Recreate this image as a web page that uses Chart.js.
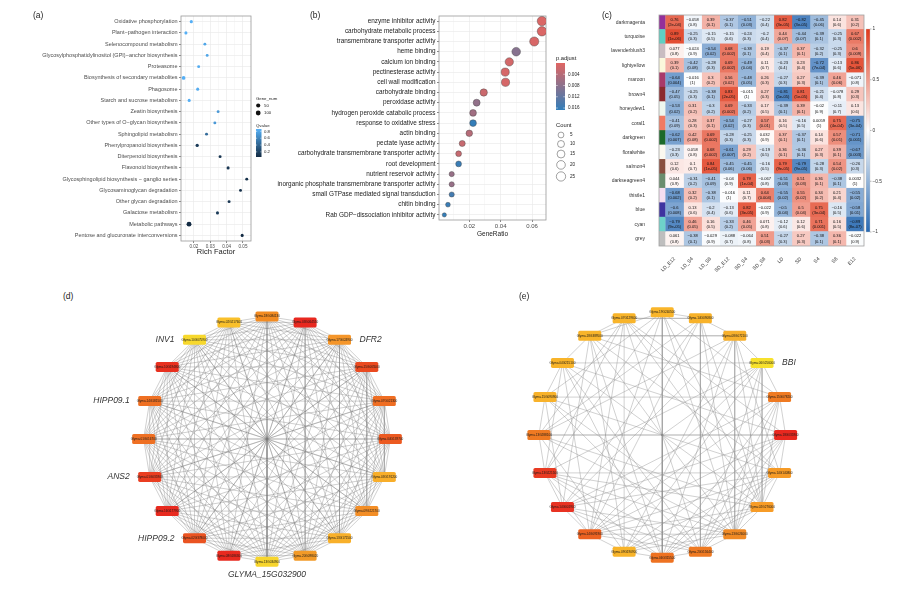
<!DOCTYPE html>
<html lang="en">
<head>
<meta charset="utf-8">
<title>Module enrichment, module-trait correlation and hub networks</title>
<script src="https://cdn.jsdelivr.net/npm/chart.js@4.4.1/dist/chart.umd.min.js"></script>
<style>
  html, body { margin: 0; padding: 0; background: #ffffff; }
  #figure { position: relative; width: 900px; height: 589px; overflow: hidden; background: #ffffff; }
  #figure canvas { position: absolute; }
  .tag { position: absolute; font: 8.5px 'Liberation Sans', Arial, sans-serif; color: #222; line-height: 9px; }
</style>
</head>
<body>
<div id="figure">
  <canvas id="keggChart" width="290" height="256" style="left:0;top:0"></canvas>
  <canvas id="goChart" width="340" height="238" style="left:260px;top:0"></canvas>
  <canvas id="traitChart" width="310" height="275" style="left:590px;top:0"></canvas>
  <canvas id="netD" width="380" height="299" style="left:77px;top:290px"></canvas>
  <canvas id="netE" width="380" height="300" style="left:470px;top:285px"></canvas>
  <div class="tag" style="left:33px;top:11px">(a)</div>
  <div class="tag" style="left:310px;top:11px">(b)</div>
  <div class="tag" style="left:602px;top:11px">(c)</div>
  <div class="tag" style="left:63px;top:292px">(d)</div>
  <div class="tag" style="left:519px;top:292px">(e)</div>
</div>
<script>
/* Multi-panel figure: KEGG / GO enrichment, module-trait heatmap, hub gene networks */

const FONT = "'Liberation Sans', Arial, Helvetica, sans-serif";
Chart.defaults.font.family = FONT;
Chart.defaults.color = '#333333';
Chart.defaults.animation = false;

// ---------- (a) KEGG enrichment ----------
const keggTerms = [
    'Oxidative phosphorylation',
    'Plant\u2212pathogen interaction',
    'Selenocompound metabolism',
    'Glycosylphosphatidylinositol (GPI)\u2212anchor biosynthesis',
    'Proteasome',
    'Biosynthesis of secondary metabolites',
    'Phagosome',
    'Starch and sucrose metabolism',
    'Zeatin biosynthesis',
    'Other types of O\u2212glycan biosynthesis',
    'Sphingolipid metabolism',
    'Phenylpropanoid biosynthesis',
    'Diterpenoid biosynthesis',
    'Flavonoid biosynthesis',
    'Glycosphingolipid biosynthesis \u2212 ganglio series',
    'Glycosaminoglycan degradation',
    'Other glycan degradation',
    'Galactose metabolism',
    'Metabolic pathways',
    'Pentose and glucuronate interconversions'
];
const keggRichFactor = [0.0184, 0.0151, 0.0267, 0.0281, 0.0229, 0.0137, 0.0223, 0.0171, 0.0348, 0.0328,
                        0.0277, 0.0220, 0.0360, 0.0409, 0.0523, 0.0485, 0.0415, 0.0344, 0.0170, 0.0495];
const keggQvalue = [0.86, 0.86, 0.80, 0.80, 0.84, 0.86, 0.84, 0.86, 0.72, 0.72,
                    0.45, 0.15, 0.12, 0.12, 0.08, 0.08, 0.12, 0.15, 0.05, 0.05];
const keggGeneNum = [6, 5, 2, 2, 3, 25, 4, 5, 2, 2, 3, 9, 3, 4, 2, 2, 3, 4, 110, 4];
const keggTicks = [0.015, 0.02, 0.025, 0.03, 0.035, 0.04, 0.045, 0.05];
const keggTickLabels = ['', '0.02', '', '0.03', '', '0.04', '', '0.05'];
const geneNumLegend = [50, 100];
const qvalueLegend = [0.2, 0.4, 0.6, 0.8];
const qvalueRange = [0.05, 0.87];

// ---------- (b) GO enrichment ----------
const goTerms = [
    'enzyme inhibitor activity',
    'carbohydrate metabolic process',
    'transmembrane transporter activity',
    'heme binding',
    'calcium ion binding',
    'pectinesterase activity',
    'cell wall modification',
    'carbohydrate binding',
    'peroxidase activity',
    'hydrogen peroxide catabolic process',
    'response to oxidative stress',
    'actin binding',
    'pectate lyase activity',
    'carbohydrate transmembrane transporter activity',
    'root development',
    'nutrient reservoir activity',
    'inorganic phosphate transmembrane transporter activity',
    'small GTPase mediated signal transduction',
    'chitin binding',
    'Rab GDP\u2212dissociation inhibitor activity'
];
const goGeneRatio = [0.0663, 0.0663, 0.0614, 0.0499, 0.0455, 0.0429, 0.0431, 0.0292, 0.0247, 0.0224,
                     0.0224, 0.0200, 0.0155, 0.0132, 0.0132, 0.0088, 0.0088, 0.0088, 0.0064, 0.0041];
const goCount = [26, 26, 24, 20, 18, 17, 17, 12, 10, 9, 9, 8, 6, 5, 5, 3, 3, 3, 2, 1];
const goPadjust = [0.0006, 0.0006, 0.0008, 0.0085, 0.0012, 0.0010, 0.0010, 0.0020, 0.0075, 0.0060,
                   0.0165, 0.0040, 0.0025, 0.0025, 0.0160, 0.0070, 0.0070, 0.0150, 0.0160, 0.0165];
const goTicks = [0.01, 0.02, 0.03, 0.04, 0.05, 0.06];
const goTickLabels = ['', '0.02', '', '0.04', '', '0.06'];
const padjLegend = [0.004, 0.008, 0.012, 0.016];
const padjRange = [0, 0.0167];
const countLegend = [5, 10, 15, 20, 25];

// ---------- (c) module-trait correlation ----------
const traitNames = ['LD_E12', 'LD_S4', 'LD_S8', 'SD_E12', 'SD_S4', 'SD_S8', 'LD', 'SD', 'S4', 'S8', 'E12'];
const moduleNames = ['darkmagenta', 'turquoise', 'lavenderblush3', 'lightyellow', 'maroon', 'brown4',
                     'honeydew1', 'coral1', 'darkgreen', 'floralwhite', 'salmon4', 'darkseagreen4',
                     'thistle1', 'blue', 'cyan', 'grey'];
const moduleSwatches = ['#93309a', '#5fd0c2', '#c9bcc1', '#fbf8dc', '#a93a6a', '#8b2a2e',
                        '#eef7ee', '#f07a62', '#1c6a2a', '#fbf8ef', '#8a4e3e', '#6b8d6d',
                        '#f4ddf0', '#3f33a0', '#6ed2ca', '#bebebe'];
const moduleTraitCor = [
    [0.76, -0.058, 0.39, -0.37, -0.51, -0.22, 0.82, -0.82, -0.45, 0.14, 0.31],
    [0.89, -0.25, -0.15, -0.15, -0.24, -0.2, 0.44, -0.44, -0.39, -0.25, 0.67],
    [0.077, -0.024, -0.54, 0.68, -0.38, 0.19, -0.37, 0.37, -0.32, -0.25, 0.6],
    [0.39, -0.42, -0.28, 0.69, -0.49, 0.11, -0.23, 0.23, -0.72, -0.13, 0.86],
    [-0.64, -0.016, 0.3, 0.56, -0.48, 0.26, -0.27, 0.27, -0.39, 0.46, -0.071],
    [-0.47, -0.25, -0.38, 0.83, -0.015, 0.27, -0.81, 0.81, -0.21, -0.078, 0.29],
    [-0.53, 0.31, -0.3, 0.69, -0.33, 0.17, -0.39, 0.39, -0.02, -0.11, 0.13],
    [-0.41, 0.28, 0.37, -0.54, -0.27, 0.57, 0.16, -0.16, 0.0059, 0.75, -0.75],
    [-0.62, 0.42, 0.69, -0.28, -0.25, 0.032, 0.37, -0.37, 0.14, 0.57, -0.71],
    [-0.23, 0.058, 0.68, -0.61, 0.29, -0.19, 0.36, -0.36, 0.27, 0.39, -0.67],
    [0.12, 0.1, 0.84, -0.45, -0.45, -0.16, 0.79, -0.79, -0.28, 0.54, -0.26],
    [0.044, -0.31, -0.41, -0.04, 0.79, -0.067, -0.51, 0.51, 0.36, -0.38, 0.0032],
    [-0.68, 0.32, -0.38, -0.016, 0.11, 0.64, -0.55, 0.55, 0.34, 0.21, -0.55],
    [-0.6, 0.13, -0.2, -0.13, 0.82, -0.022, -0.5, 0.5, 0.75, -0.16, -0.58],
    [-0.79, 0.46, 0.16, -0.33, 0.46, 0.071, -0.12, 0.12, 0.71, 0.16, -0.89],
    [0.061, -0.38, -0.029, -0.088, -0.064, 0.51, -0.27, 0.27, -0.38, 0.36, -0.022]
];
const moduleTraitP = [
    ['2e-04', '0.8', '0.1', '0.1', '0.03', '0.4', '3e-05', '3e-05', '0.06', '0.6', '0.2'],
    ['1e-06', '0.3', '0.5', '0.6', '0.3', '0.4', '0.07', '0.07', '0.1', '0.3', '0.002'],
    ['0.8', '0.9', '0.02', '0.002', '0.1', '0.4', '0.1', '0.1', '0.2', '0.3', '0.009'],
    ['0.1', '0.08', '0.3', '0.002', '0.04', '0.7', '0.4', '0.4', '7e-04', '0.6', '5e-06'],
    ['0.004', '1', '0.2', '0.02', '0.05', '0.3', '0.3', '0.3', '0.1', '0.06', '0.8'],
    ['0.05', '0.3', '0.1', '2e-05', '1', '0.3', '5e-05', '5e-05', '0.4', '0.8', '0.3'],
    ['0.02', '0.2', '0.2', '0.002', '0.2', '0.5', '0.1', '0.1', '0.9', '0.7', '0.6'],
    ['0.09', '0.3', '0.1', '0.02', '0.3', '0.01', '0.5', '0.5', '1', '4e-04', '3e-04'],
    ['0.007', '0.08', '0.002', '0.3', '0.3', '0.9', '0.1', '0.1', '0.6', '0.01', '0.001'],
    ['0.3', '0.8', '0.002', '0.007', '0.2', '0.5', '0.1', '0.1', '0.3', '0.1', '0.003'],
    ['0.6', '0.7', '1e-05', '0.06', '0.06', '0.5', '9e-05', '9e-05', '0.3', '0.02', '0.3'],
    ['0.9', '0.2', '0.09', '0.9', '1e-04', '0.8', '0.03', '0.03', '0.1', '0.1', '1'],
    ['0.002', '0.2', '0.1', '1', '0.7', '0.004', '0.02', '0.02', '0.2', '0.4', '0.02'],
    ['0.008', '0.6', '0.4', '0.6', '3e-05', '0.9', '0.04', '0.04', '3e-04', '0.5', '0.01'],
    ['9e-05', '0.05', '0.5', '0.2', '0.05', '0.8', '0.6', '0.6', '0.001', '0.5', '8e-07'],
    ['0.8', '0.1', '0.9', '0.7', '0.8', '0.03', '0.3', '0.3', '0.1', '0.1', '0.9']
];
const corLegend = [1, 0.5, 0, -0.5, -1];

// ---------- (d) network of the first module (fully connected, plus hub) ----------
const netDNames = ['Glyma.18G084130', 'Glyma.03G064550', 'Glyma.17G024900', 'Glyma.15G065500',
                   'Glyma.07G021300', 'Glyma.04G139700', 'Glyma.03G191200', 'Glyma.09G221700',
                   'Glyma.13G171500', 'Glyma.20G098020', 'Glyma.13G034900', 'Glyma.08G186300',
                   'Glyma.02G378000', 'Glyma.16G177900', 'Glyma.01G035900', 'Glyma.01G016700',
                   'Glyma.14G181500', 'Glyma.10G194800', 'Glyma.10G075900', 'Glyma.02G217600'];
const netDColors = ['#f28b22', '#e8281f', '#f5962a', '#ea4a20', '#ef6e23', '#ec5a21', '#f8ae2a',
                    '#f38e26', '#f8b02a', '#f29a28', '#f7d52d', '#e82a1f', '#ea5321', '#e82a1f',
                    '#ea3e21', '#ef7023', '#ef7023', '#e8301f', '#f7d82d', '#f9c02b'];
const netDTags = [
    { node: 18, text: 'INV1', side: 'left' },
    { node: 2, text: 'DFR2', side: 'right' },
    { node: 16, text: 'HIPP09.1', side: 'left' },
    { node: 14, text: 'ANS2', side: 'left' },
    { node: 12, text: 'HIPP09.2', side: 'left' },
    { node: 10, text: 'GLYMA_15G032900', side: 'below' }
];

// ---------- (e) network of the second module ----------
const netENames = ['Glyma.19G240500', 'Glyma.14G090800', 'Glyma.08G072100', 'Glyma.06G256000',
                   'Glyma.15G078200', 'Glyma.18G035900', 'Glyma.14G140800', 'Glyma.02G276000',
                   'Glyma.13G026000', 'Glyma.20G156400', 'Glyma.06G315500', 'Glyma.09G190900',
                   'Glyma.14G091900', 'Glyma.14G001900', 'Glyma.13G221500', 'Glyma.13G288100',
                   'Glyma.15G090900', 'Glyma.04G215100', 'Glyma.18G389500', 'Glyma.07G129600'];
const netEColors = ['#f9b52a', '#f8b22a', '#f7b02c', '#f7e12d', '#ef7a22', '#e8281f', '#f59a26',
                    '#f79c27', '#f08a25', '#ef7a22', '#ee7221', '#f8b42a', '#ec6221', '#e83222',
                    '#e83a22', '#ef7a22', '#f8b22a', '#f8b42a', '#f8b42a', '#f8b42a'];
const netEEdges = [
    [0, 1], [0, 4], [0, 7], [0, 8], [0, 10], [0, 12], [0, 14], [0, 16], [0, 18],
    [1, 2], [1, 7], [1, 8], [1, 9], [1, 12], [1, 13], [1, 15], [1, 19],
    [2, 3], [2, 6], [2, 7], [2, 8], [2, 10], [2, 11], [2, 13], [2, 15], [2, 18],
    [3, 4], [3, 7], [3, 8], [3, 9], [3, 11], [3, 12], [3, 14], [3, 17],
    [4, 5], [4, 7], [4, 8], [4, 9], [4, 10], [4, 12], [4, 13], [4, 16], [4, 18],
    [5, 6], [5, 8], [5, 9], [5, 10], [5, 11], [5, 12], [5, 13], [5, 15], [5, 17], [5, 19],
    [6, 7], [6, 9], [6, 10], [6, 11], [6, 12], [6, 13], [6, 14], [6, 16], [6, 18], [6, 19],
    [7, 8], [7, 10], [7, 11], [7, 12], [7, 14], [7, 15], [7, 17], [7, 19],
    [8, 9], [8, 11], [8, 12], [8, 13], [8, 14], [8, 15], [8, 16], [8, 18],
    [9, 10], [9, 12], [9, 13], [9, 14], [9, 16], [9, 17], [9, 19],
    [10, 11], [10, 13], [10, 14], [10, 17], [10, 18],
    [11, 12], [11, 15], [11, 18], [11, 19],
    [12, 13], [12, 14], [12, 17], [12, 19],
    [13, 14], [13, 16], [13, 18],
    [14, 15], [14, 17], [14, 19],
    [15, 16], [15, 19],
    [16, 17], [17, 18], [18, 19], [18, 2], [19, 1]
];
const netEHubLinks = [0, 3, 5, 10, 15];
const netETags = [{ node: 3, text: 'BBI', side: 'right' }];

// ---------- colour helpers ----------
function hexToRgb(hex) {
    const n = parseInt(hex.slice(1), 16);
    return [(n >> 16) & 255, (n >> 8) & 255, n & 255];
}
function mixColor(c1, c2, t) {
    const a = hexToRgb(c1), b = hexToRgb(c2);
    t = Math.max(0, Math.min(1, t));
    const m = a.map((v, k) => Math.round(v + (b[k] - v) * t));
    return `rgb(${m[0]},${m[1]},${m[2]})`;
}
const qvalueColor = q => mixColor('#132b43', '#56b1f7', (q - qvalueRange[0]) / (qvalueRange[1] - qvalueRange[0]));
const padjColor = p => mixColor('#e06663', '#327eba', (p - padjRange[0]) / (padjRange[1] - padjRange[0]));
function corColor(v) {
    return v >= 0 ? mixColor('#ffffff', '#e0381a', v) : mixColor('#ffffff', '#2668b2', -v);
}
const geneNumRadius = n => 1.3 + 0.11 * Math.sqrt(n);
const countRadius = c => 1.5 + 0.63 * Math.sqrt(c);

// frame around the plotting panel (ggplot theme_bw look)
const framePlugin = {
    id: 'panelFrame',
    beforeDatasetsDraw(chart) {
        const { ctx, chartArea: a } = chart;
        ctx.save();
        ctx.strokeStyle = '#9a9a9a';
        ctx.lineWidth = 0.8;
        ctx.strokeRect(a.left, a.top, a.right - a.left, a.bottom - a.top);
        ctx.restore();
    }
};

function minorAware(labels, major, minor) {
    return ctx => (labels[ctx.index] ? major : minor);
}

// ---------- (a) chart ----------
const keggLegendPlugin = {
    id: 'keggLegend',
    afterDraw(chart) {
        const { ctx, chartArea } = chart;
        const x0 = chartArea.right + 5;
        ctx.save();
        ctx.textBaseline = 'middle';
        ctx.font = `4.3px ${FONT}`;
        ctx.fillStyle = '#222';
        ctx.fillText('Gene_num', x0, 99);
        geneNumLegend.forEach((n, k) => {
            const y = 105.5 + k * 7.5;
            ctx.beginPath();
            ctx.arc(x0 + 2.2, y, geneNumRadius(n), 0, Math.PI * 2);
            ctx.fillStyle = '#111';
            ctx.fill();
            ctx.fillStyle = '#222';
            ctx.fillText(String(n), x0 + 8, y);
        });
        ctx.fillText('Qvalue', x0, 126);
        const top = 129, h = 28, w = 5.5;
        const grad = ctx.createLinearGradient(0, top, 0, top + h);
        grad.addColorStop(0, qvalueColor(qvalueRange[1]));
        grad.addColorStop(1, qvalueColor(qvalueRange[0]));
        ctx.fillStyle = grad;
        ctx.fillRect(x0, top, w, h);
        qvalueLegend.forEach(v => {
            const y = top + (qvalueRange[1] - v) / (qvalueRange[1] - qvalueRange[0]) * h;
            ctx.strokeStyle = '#ffffff';
            ctx.lineWidth = 0.5;
            ctx.beginPath();
            ctx.moveTo(x0, y); ctx.lineTo(x0 + 1.2, y);
            ctx.moveTo(x0 + w - 1.2, y); ctx.lineTo(x0 + w, y);
            ctx.stroke();
            ctx.fillStyle = '#222';
            ctx.fillText(v.toFixed(1), x0 + w + 2.5, y);
        });
        ctx.restore();
    }
};

new Chart(document.getElementById('keggChart'), {
    type: 'bubble',
    data: {
        datasets: [{
            data: keggTerms.map((t, i) => ({ x: keggRichFactor[i], y: t, r: geneNumRadius(keggGeneNum[i]) })),
            backgroundColor: keggQvalue.map(qvalueColor),
            borderWidth: 0
        }]
    },
    options: {
        responsive: false,
        events: [],
        layout: { padding: { top: 16, right: 39, left: 0, bottom: 0 } },
        plugins: { legend: { display: false }, tooltip: { enabled: false } },
        scales: {
            x: {
                type: 'linear', min: 0.0121, max: 0.0549,
                afterBuildTicks: s => { s.ticks = keggTicks.map(v => ({ value: v })); },
                afterFit: s => { s.height = 15; },
                ticks: { callback: (v, i) => keggTickLabels[i], font: { size: 4.6 }, color: '#4d4d4d',
                         padding: 1, maxRotation: 0, autoSkip: false },
                grid: { color: '#ebebeb', lineWidth: minorAware(keggTickLabels, 0.7, 0.35), tickLength: 2,
                        tickColor: minorAware(keggTickLabels, '#555555', 'rgba(0,0,0,0)') },
                border: { display: false },
                title: { display: true, text: 'Rich Factor', font: { size: 7.5 }, color: '#1a1a1a', padding: 0 }
            },
            y: {
                type: 'category', labels: keggTerms, offset: true,
                afterFit: s => { s.width = 181; },
                ticks: { font: { size: 5.5 }, color: '#4d4d4d', padding: 1.5, autoSkip: false },
                grid: { offset: false, color: '#ebebeb', lineWidth: 0.7, tickLength: 2, tickColor: '#555555' },
                border: { display: false }
            }
        }
    },
    plugins: [framePlugin, keggLegendPlugin]
});

// ---------- (b) chart ----------
const goLegendPlugin = {
    id: 'goLegend',
    afterDraw(chart) {
        const { ctx, chartArea } = chart;
        const x0 = chartArea.right + 10;
        ctx.save();
        ctx.textBaseline = 'middle';
        ctx.fillStyle = '#222';
        ctx.font = `5.8px ${FONT}`;
        ctx.fillText('p.adjust', x0, 58);
        const top = 63, h = 47, w = 9;
        const grad = ctx.createLinearGradient(0, top, 0, top + h);
        grad.addColorStop(0, padjColor(padjRange[0]));
        grad.addColorStop(1, padjColor(padjRange[1]));
        ctx.fillStyle = grad;
        ctx.fillRect(x0, top, w, h);
        ctx.font = `4.6px ${FONT}`;
        padjLegend.forEach(v => {
            const y = top + (v - padjRange[0]) / (padjRange[1] - padjRange[0]) * h;
            ctx.strokeStyle = '#ffffff';
            ctx.lineWidth = 0.5;
            ctx.beginPath();
            ctx.moveTo(x0, y); ctx.lineTo(x0 + 1.8, y);
            ctx.moveTo(x0 + w - 1.8, y); ctx.lineTo(x0 + w, y);
            ctx.stroke();
            ctx.fillStyle = '#222';
            ctx.fillText(v.toFixed(3), x0 + w + 3, y);
        });
        ctx.font = `5.8px ${FONT}`;
        ctx.fillText('Count', x0, 125);
        ctx.font = `4.6px ${FONT}`;
        let y = 135, prevR = 0;
        countLegend.forEach((c, k) => {
            const r = countRadius(c);
            if (k > 0) y += prevR + r + 2.6;
            ctx.beginPath();
            ctx.arc(x0 + 5, y, r, 0, Math.PI * 2);
            ctx.fillStyle = '#ffffff';
            ctx.fill();
            ctx.strokeStyle = '#444';
            ctx.lineWidth = 0.5;
            ctx.stroke();
            ctx.fillStyle = '#222';
            ctx.fillText(String(c), x0 + 14, y);
            prevR = r;
        });
        ctx.restore();
    }
};

new Chart(document.getElementById('goChart'), {
    type: 'bubble',
    data: {
        datasets: [{
            data: goTerms.map((t, i) => ({ x: goGeneRatio[i], y: t, r: countRadius(goCount[i]) })),
            backgroundColor: goPadjust.map(padjColor),
            borderColor: 'rgba(70,70,70,0.85)',
            borderWidth: 0.5
        }]
    },
    options: {
        responsive: false,
        events: [],
        layout: { padding: { top: 16, right: 54, left: 0, bottom: 0 } },
        plugins: { legend: { display: false }, tooltip: { enabled: false } },
        scales: {
            x: {
                type: 'linear', min: 0.0007, max: 0.0689,
                afterBuildTicks: s => { s.ticks = goTicks.map(v => ({ value: v })); },
                afterFit: s => { s.height = 18; },
                ticks: { callback: (v, i) => goTickLabels[i], font: { size: 6 }, color: '#4d4d4d',
                         padding: 1, maxRotation: 0, autoSkip: false },
                grid: { color: '#ebebeb', lineWidth: minorAware(goTickLabels, 0.7, 0.35), tickLength: 2,
                        tickColor: minorAware(goTickLabels, '#555555', 'rgba(0,0,0,0)') },
                border: { display: false },
                title: { display: true, text: 'GeneRatio', font: { size: 6.5 }, color: '#1a1a1a', padding: 0 }
            },
            y: {
                type: 'category', labels: goTerms, offset: true,
                afterFit: s => { s.width = 179; },
                ticks: { font: { size: 6.4 }, color: '#222', padding: 1.5, autoSkip: false },
                grid: { offset: false, color: '#ebebeb', lineWidth: 0.7, tickLength: 2, tickColor: '#555555' },
                border: { display: false }
            }
        }
    },
    plugins: [framePlugin, goLegendPlugin]
});

// ---------- (c) heatmap ----------
const fmtCor = v => String(v).replace('-', '\u2212');

const heatmapPlugin = {
    id: 'heatmapText',
    afterDatasetsDraw(chart) {
        const { ctx, chartArea: a } = chart;
        ctx.save();
        ctx.font = `4.1px ${FONT}`;
        ctx.fillStyle = '#111';
        ctx.textAlign = 'center';
        ctx.textBaseline = 'middle';
        traitNames.forEach((trait, j) => {
            chart.getDatasetMeta(j + 1).data.forEach((bar, i) => {
                const cx = (bar.x + bar.base) / 2;
                ctx.fillText(fmtCor(moduleTraitCor[i][j]), cx, bar.y - 2.5);
                ctx.fillText('(' + moduleTraitP[i][j] + ')', cx, bar.y + 2.6);
            });
        });
        // panel frame
        ctx.strokeStyle = '#a0a0a0';
        ctx.lineWidth = 0.8;
        ctx.strokeRect(a.left, a.top, a.right - a.left, a.bottom - a.top);
        // colour key
        const bx = a.right + 2, bw = 4, top = a.top + 14, bottom = a.bottom - 14;
        const grad = ctx.createLinearGradient(0, top, 0, bottom);
        grad.addColorStop(0, corColor(1));
        grad.addColorStop(0.5, corColor(0));
        grad.addColorStop(1, corColor(-1));
        ctx.fillStyle = grad;
        ctx.fillRect(bx, top, bw, bottom - top);
        ctx.strokeStyle = '#c8c8c8';
        ctx.lineWidth = 0.4;
        ctx.strokeRect(bx, top, bw, bottom - top);
        ctx.font = `4.8px ${FONT}`;
        ctx.textAlign = 'left';
        corLegend.forEach(v => {
            const y = top + (1 - v) / 2 * (bottom - top);
            ctx.strokeStyle = '#555';
            ctx.beginPath();
            ctx.moveTo(bx + bw, y); ctx.lineTo(bx + bw + 1.5, y);
            ctx.stroke();
            ctx.fillStyle = '#333';
            ctx.fillText(fmtCor(v), bx + bw + 2.5, y);
        });
        ctx.restore();
    }
};

const heatDatasets = [{
    label: 'module',
    data: moduleNames.map(() => [-0.36, -0.03]),
    backgroundColor: moduleSwatches,
    grouped: false, barPercentage: 1, categoryPercentage: 1, borderWidth: 0
}].concat(traitNames.map((trait, j) => ({
    label: trait,
    data: moduleNames.map(() => [j, j + 1]),
    backgroundColor: moduleNames.map((m, i) => corColor(moduleTraitCor[i][j])),
    grouped: false, barPercentage: 1, categoryPercentage: 1, borderWidth: 0
})));

new Chart(document.getElementById('traitChart'), {
    type: 'bar',
    data: { labels: moduleNames, datasets: heatDatasets },
    options: {
        indexAxis: 'y',
        responsive: false,
        events: [],
        layout: { padding: { top: 15, right: 36, left: 0, bottom: 0 } },
        plugins: { legend: { display: false }, tooltip: { enabled: false } },
        scales: {
            x: {
                type: 'linear', min: -0.36, max: 11,
                afterBuildTicks: s => { s.ticks = traitNames.map((t, j) => ({ value: j + 0.5 })); },
                afterFit: s => { s.height = 29; },
                ticks: { callback: (v, i) => traitNames[i], minRotation: 45, maxRotation: 45,
                         font: { size: 5 }, color: '#333', padding: 2, autoSkip: false },
                grid: { display: false },
                border: { display: false }
            },
            y: {
                type: 'category',
                afterFit: s => { s.width = 69; },
                ticks: { font: { size: 5 }, color: '#333', padding: 6, autoSkip: false },
                grid: { display: false },
                border: { display: false }
            }
        }
    },
    plugins: [heatmapPlugin]
});

// ---------- (d) and (e) networks ----------
// circular layout: node 0 on top, the rest clockwise, evenly spaced
function ringPosition(i, n) {
    const a = (90 - i * 360 / n) * Math.PI / 180;
    return { x: Math.cos(a), y: Math.sin(a) };
}

function roundedRect(ctx, x, y, w, h, r) {
    ctx.beginPath();
    ctx.moveTo(x + r, y);
    ctx.lineTo(x + w - r, y);
    ctx.quadraticCurveTo(x + w, y, x + w, y + r);
    ctx.lineTo(x + w, y + h - r);
    ctx.quadraticCurveTo(x + w, y + h, x + w - r, y + h);
    ctx.lineTo(x + r, y + h);
    ctx.quadraticCurveTo(x, y + h, x, y + h - r);
    ctx.lineTo(x, y + r);
    ctx.quadraticCurveTo(x, y, x + r, y);
    ctx.closePath();
}

function drawNetwork(canvasId, names, colors, edges, hubLinks, tags, view, edgeColor) {
    const pos = names.map((_, i) => ringPosition(i, names.length));
    const hub = { x: 0, y: 0 };
    const gap = { x: NaN, y: NaN };
    const lineData = [];
    edges.forEach(([a, b]) => lineData.push(pos[a], pos[b], gap));
    hubLinks.forEach(i => lineData.push(hub, pos[i], gap));

    const nodePlugin = {
        id: 'networkNodes',
        afterDatasetsDraw(chart) {
            const { ctx } = chart;
            const pts = chart.getDatasetMeta(2).data;
            ctx.save();
            pts.forEach((p, i) => {
                roundedRect(ctx, p.x - 11.5, p.y - 5, 23, 10, 1.6);
                ctx.fillStyle = colors[i];
                ctx.fill();
                ctx.fillStyle = '#1a1a1a';
                ctx.font = `3.1px ${FONT}`;
                ctx.textAlign = 'center';
                ctx.textBaseline = 'middle';
                ctx.fillText(names[i], p.x, p.y + 0.2);
            });
            ctx.font = `italic 8.5px ${FONT}`;
            ctx.fillStyle = '#333';
            tags.forEach(t => {
                const p = pts[t.node];
                if (t.side === 'left') {
                    ctx.textAlign = 'right';
                    ctx.fillText(t.text, p.x - 20, p.y);
                } else if (t.side === 'right') {
                    ctx.textAlign = 'left';
                    ctx.fillText(t.text, p.x + 20, p.y);
                } else {
                    ctx.textAlign = 'center';
                    ctx.fillText(t.text, p.x, p.y + 13);
                }
            });
            ctx.restore();
        }
    };

    new Chart(document.getElementById(canvasId), {
        type: 'scatter',
        data: {
            datasets: [
                { data: lineData, showLine: true, spanGaps: false, borderColor: edgeColor,
                  borderWidth: 0.5, pointRadius: 0, clip: false },
                { data: [hub], pointRadius: 1.1, backgroundColor: '#555', borderWidth: 0, clip: false },
                { data: pos, pointRadius: 0, clip: false }
            ]
        },
        options: {
            responsive: false,
            events: [],
            layout: { padding: 0 },
            plugins: { legend: { display: false }, tooltip: { enabled: false } },
            scales: {
                x: { type: 'linear', display: false, min: view.xMin, max: view.xMax },
                y: { type: 'linear', display: false, min: view.yMin, max: view.yMax }
            }
        },
        plugins: [nodePlugin]
    });
}

// module (d) is a complete graph: every gene pair is linked, and the hub links to all
const netDEdges = [];
netDNames.forEach((_, a) => netDNames.forEach((__, b) => { if (b > a) netDEdges.push([a, b]); }));
const netDHubLinks = netDNames.map((_, i) => i);

drawNetwork('netD', netDNames, netDColors, netDEdges, netDHubLinks, netDTags,
            { xMin: -190 / 126, xMax: 190 / 126, yMin: -150 / 126, yMax: 149 / 126 },
            'rgba(125,125,125,0.72)');
drawNetwork('netE', netENames, netEColors, netEEdges, netEHubLinks, netETags,
            { xMin: -192.3 / 126, xMax: 187.7 / 126, yMin: -150 / 126, yMax: 150 / 126 },
            'rgba(140,140,140,0.8)');
</script>
</body>
</html>
